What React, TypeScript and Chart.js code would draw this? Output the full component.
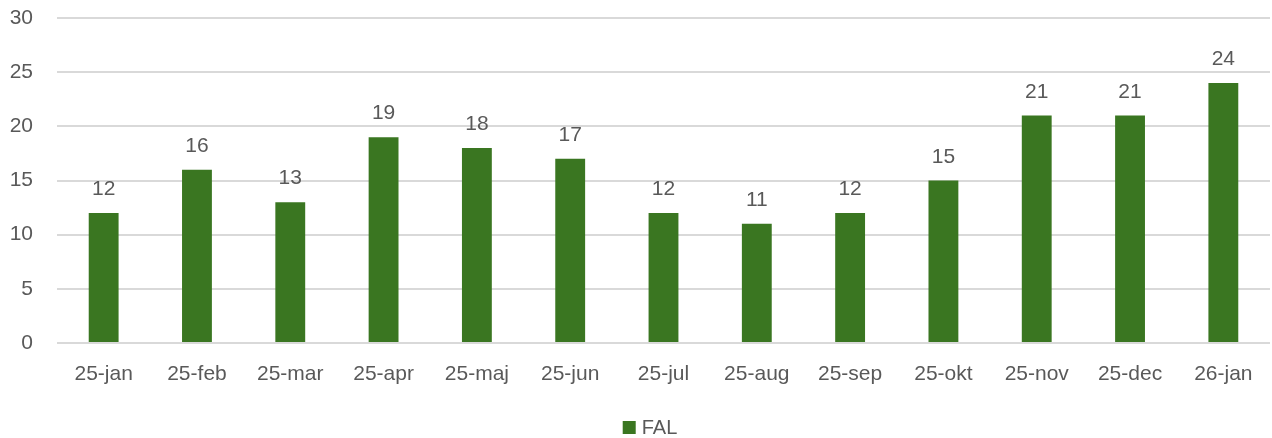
import React, { useEffect, useRef } from "react";
import { Chart, registerables } from "chart.js";

Chart.register(...registerables);

const categories = ["25-jan", "25-feb", "25-mar", "25-apr", "25-maj", "25-jun", "25-jul", "25-aug", "25-sep", "25-okt", "25-nov", "25-dec", "26-jan"];
const falValues = [12, 16, 13, 19, 18, 17, 12, 11, 12, 15, 21, 21, 24];
const seriesName = "FAL";
const yMin = 0;
const yMax = 30;
const yStep = 5;

const TEXT = "#595959";
const BAR = "#3A7621";
const FONT = "'Liberation Sans', Arial, sans-serif";

const valueLabels = {
  id: "valueLabels",
  afterDatasetsDraw(chart: any) {
    const ctx = chart.ctx;
    const meta = chart.getDatasetMeta(0);
    ctx.save();
    ctx.fillStyle = TEXT;
    ctx.font = `21px ${FONT}`;
    ctx.textAlign = "center";
    ctx.textBaseline = "alphabetic";
    meta.data.forEach((el: any, i: number) => {
      const v = chart.data.datasets[0].data[i];
      ctx.fillText(String(v), el.x, el.y - 18);
    });
    ctx.restore();
  },
};

const customLegend = {
  id: "customLegend",
  afterDraw(chart: any) {
    const ctx = chart.ctx;
    const ds = chart.data.datasets[0];
    ctx.save();
    ctx.font = `20px ${FONT}`;
    const tw = ctx.measureText(ds.label).width;
    const box = 13;
    const gap = 6;
    const total = box + gap + tw;
    const cx = chart.width / 2 + 14;
    const x0 = cx - total / 2;
    const baseline = chart.height - 4;
    ctx.fillStyle = ds.backgroundColor;
    ctx.fillRect(x0, baseline - box, box, box);
    ctx.fillStyle = TEXT;
    ctx.textAlign = "left";
    ctx.textBaseline = "alphabetic";
    ctx.fillText(ds.label, x0 + box + gap, baseline);
    ctx.restore();
  },
};

export default function App() {
  const ref = useRef<HTMLCanvasElement | null>(null);
  useEffect(() => {
    document.body.style.margin = "0";
    const chart = new Chart(ref.current!, {
      type: "bar",
      data: {
        labels: categories,
        datasets: [
          {
            label: seriesName,
            data: falValues,
            backgroundColor: BAR,
            borderWidth: 0,
            barPercentage: 0.64,
            categoryPercentage: 0.5,
          },
        ],
      },
      options: {
        animation: false,
        responsive: false,
        maintainAspectRatio: false,
        layout: { padding: { top: 18, right: 2, left: 0, bottom: 0 } },
        plugins: {
          legend: { display: false },
          tooltip: { enabled: false },
        },
        scales: {
          x: {
            grid: { display: false, drawTicks: false },
            border: { display: false },
            ticks: { color: TEXT, font: { family: FONT, size: 21 }, padding: 19, maxRotation: 0 },
            afterFit(scale: any) {
              scale.height = 95;
              scale.paddingLeft = 0;
              scale.paddingRight = 0;
            },
          },
          y: {
            min: yMin,
            max: yMax,
            grid: { color: "#D9D9D9", lineWidth: 2, drawTicks: false },
            border: { display: false },
            ticks: { stepSize: yStep, color: TEXT, font: { family: FONT, size: 21 }, padding: 24 },
            afterFit(scale: any) {
              scale.width = 57;
              scale.paddingTop = 0;
              scale.paddingBottom = 0;
            },
          },
        },
      },
      plugins: [valueLabels, customLegend],
    });
    return () => chart.destroy();
  }, []);
  return (
    <div style={{ width: 1272, height: 438 }}>
      <canvas ref={ref} width={1272} height={438} />
    </div>
  );
}
